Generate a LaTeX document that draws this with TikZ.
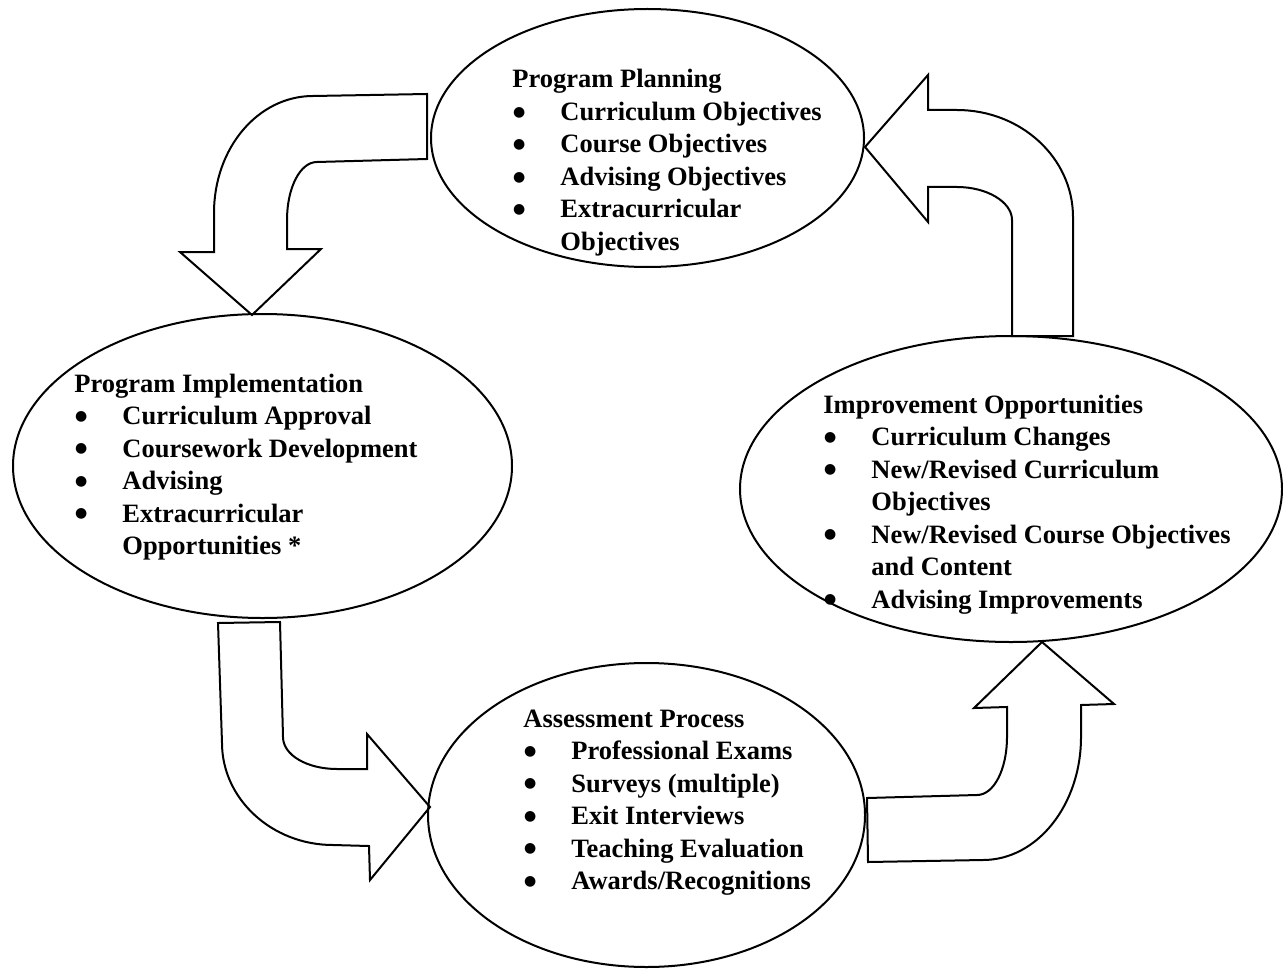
\documentclass[tikz,border=0pt]{standalone}
\usepackage{fontspec}
\setmainfont{Liberation Serif}
\newfontfamily\dotfont{DejaVu Sans}
\usetikzlibrary{shapes.geometric}
\newlength\bltw
\setlength\bltw{24pt}
% bulleted line and its continuation line
\newcommand\bigdot{\raisebox{2.1pt}{\dotfont\fontsize{7}{7}\selectfont ●}}
\newcommand\blt[1]{\makebox[\bltw][l]{\hspace{0.4pt}\bigdot}#1}
\newcommand\cnt[1]{\hspace*{\bltw}#1}
\begin{document}
\begin{tikzpicture}[x=0.5pt,y=-0.5pt,
  stage/.style={ellipse, draw, line width=1pt, inner sep=0pt, outer sep=0pt},
  blockarrow/.style={draw, line width=1pt, line join=miter, fill=white},
  listtext/.style={anchor=base west, inner sep=0pt,
    font=\fontsize{13.25}{16.25}\selectfont\bfseries}]
\useasboundingbox (0,0) rectangle (1283,968);

% curved block arrows between the stages
\draw[blockarrow] (427,94) -- (313,96) .. controls (258,96) and (214,148) .. (214,213)
  -- (214,252) -- (180,252) -- (252,315) -- (321,249) -- (287,249) -- (287,220)
  .. controls (287,188) and (300,162) .. (317,162) -- (427,159) -- cycle;
\draw[blockarrow] (865,147) -- (928,75) -- (928,110) -- (957,110)
  .. controls (1021,110) and (1073,158) .. (1073,217) -- (1073,336) -- (1012,336)
  -- (1012,220) .. controls (1012,202) and (987,187) .. (957,187) -- (928,187)
  -- (928,222) -- cycle;
\draw[blockarrow] (218,623) -- (280,622) -- (283,737)
  .. controls (283,755) and (307,769) .. (337,769) -- (367,769) -- (367,734)
  -- (430,807) -- (370,880) -- (369,846) -- (333,845)
  .. controls (272,845) and (222,799) .. (222,743) -- cycle;
\draw[blockarrow] (867,798) -- (977,795) .. controls (994,795) and (1007,769) .. (1007,737)
  -- (1007,707) -- (974,708) -- (1042,642) -- (1114,704) -- (1081,705) -- (1081,737)
  .. controls (1081,805) and (1037,860) .. (983,860) -- (868,862) -- cycle;

% stages
\node[stage, minimum width=216.5pt, minimum height=129pt] (plan) at (647.5,138) {};
\node[stage, minimum width=249.5pt, minimum height=152pt] (impl) at (262.5,466) {};
\node[stage, minimum width=271pt, minimum height=153pt] (impr) at (1011,489) {};
\node[stage, minimum width=218.5pt, minimum height=152pt] (assess) at (646.5,815) {};

% stage contents
\node[listtext] (plantext) at (512,88) {\begin{tabular}[t]{@{}l@{}}
Program Planning\\
\blt{Curriculum Objectives}\\
\blt{Course Objectives}\\
\blt{Advising Objectives}\\
\blt{Extracurricular}\\
\cnt{Objectives}
\end{tabular}};
\node[listtext] (impltext) at (74,392) {\begin{tabular}[t]{@{}l@{}}
Program Implementation\\
\blt{Curriculum Approval}\\
\blt{Coursework Development}\\
\blt{Advising}\\
\blt{Extracurricular}\\
\cnt{Opportunities *}
\end{tabular}};
\node[listtext] (imprtext) at (823,413) {\begin{tabular}[t]{@{}l@{}}
Improvement Opportunities\\
\blt{Curriculum Changes}\\
\blt{New/Revised Curriculum}\\
\cnt{Objectives}\\
\blt{New/Revised Course Objectives}\\
\cnt{and Content}\\
\blt{Advising Improvements}
\end{tabular}};
\node[listtext] (assesstext) at (523,727) {\begin{tabular}[t]{@{}l@{}}
Assessment Process\\
\blt{Professional Exams}\\
\blt{Surveys (multiple)}\\
\blt{Exit Interviews}\\
\blt{Teaching Evaluation}\\
\blt{Awards/Recognitions}
\end{tabular}};
\end{tikzpicture}
\end{document}
